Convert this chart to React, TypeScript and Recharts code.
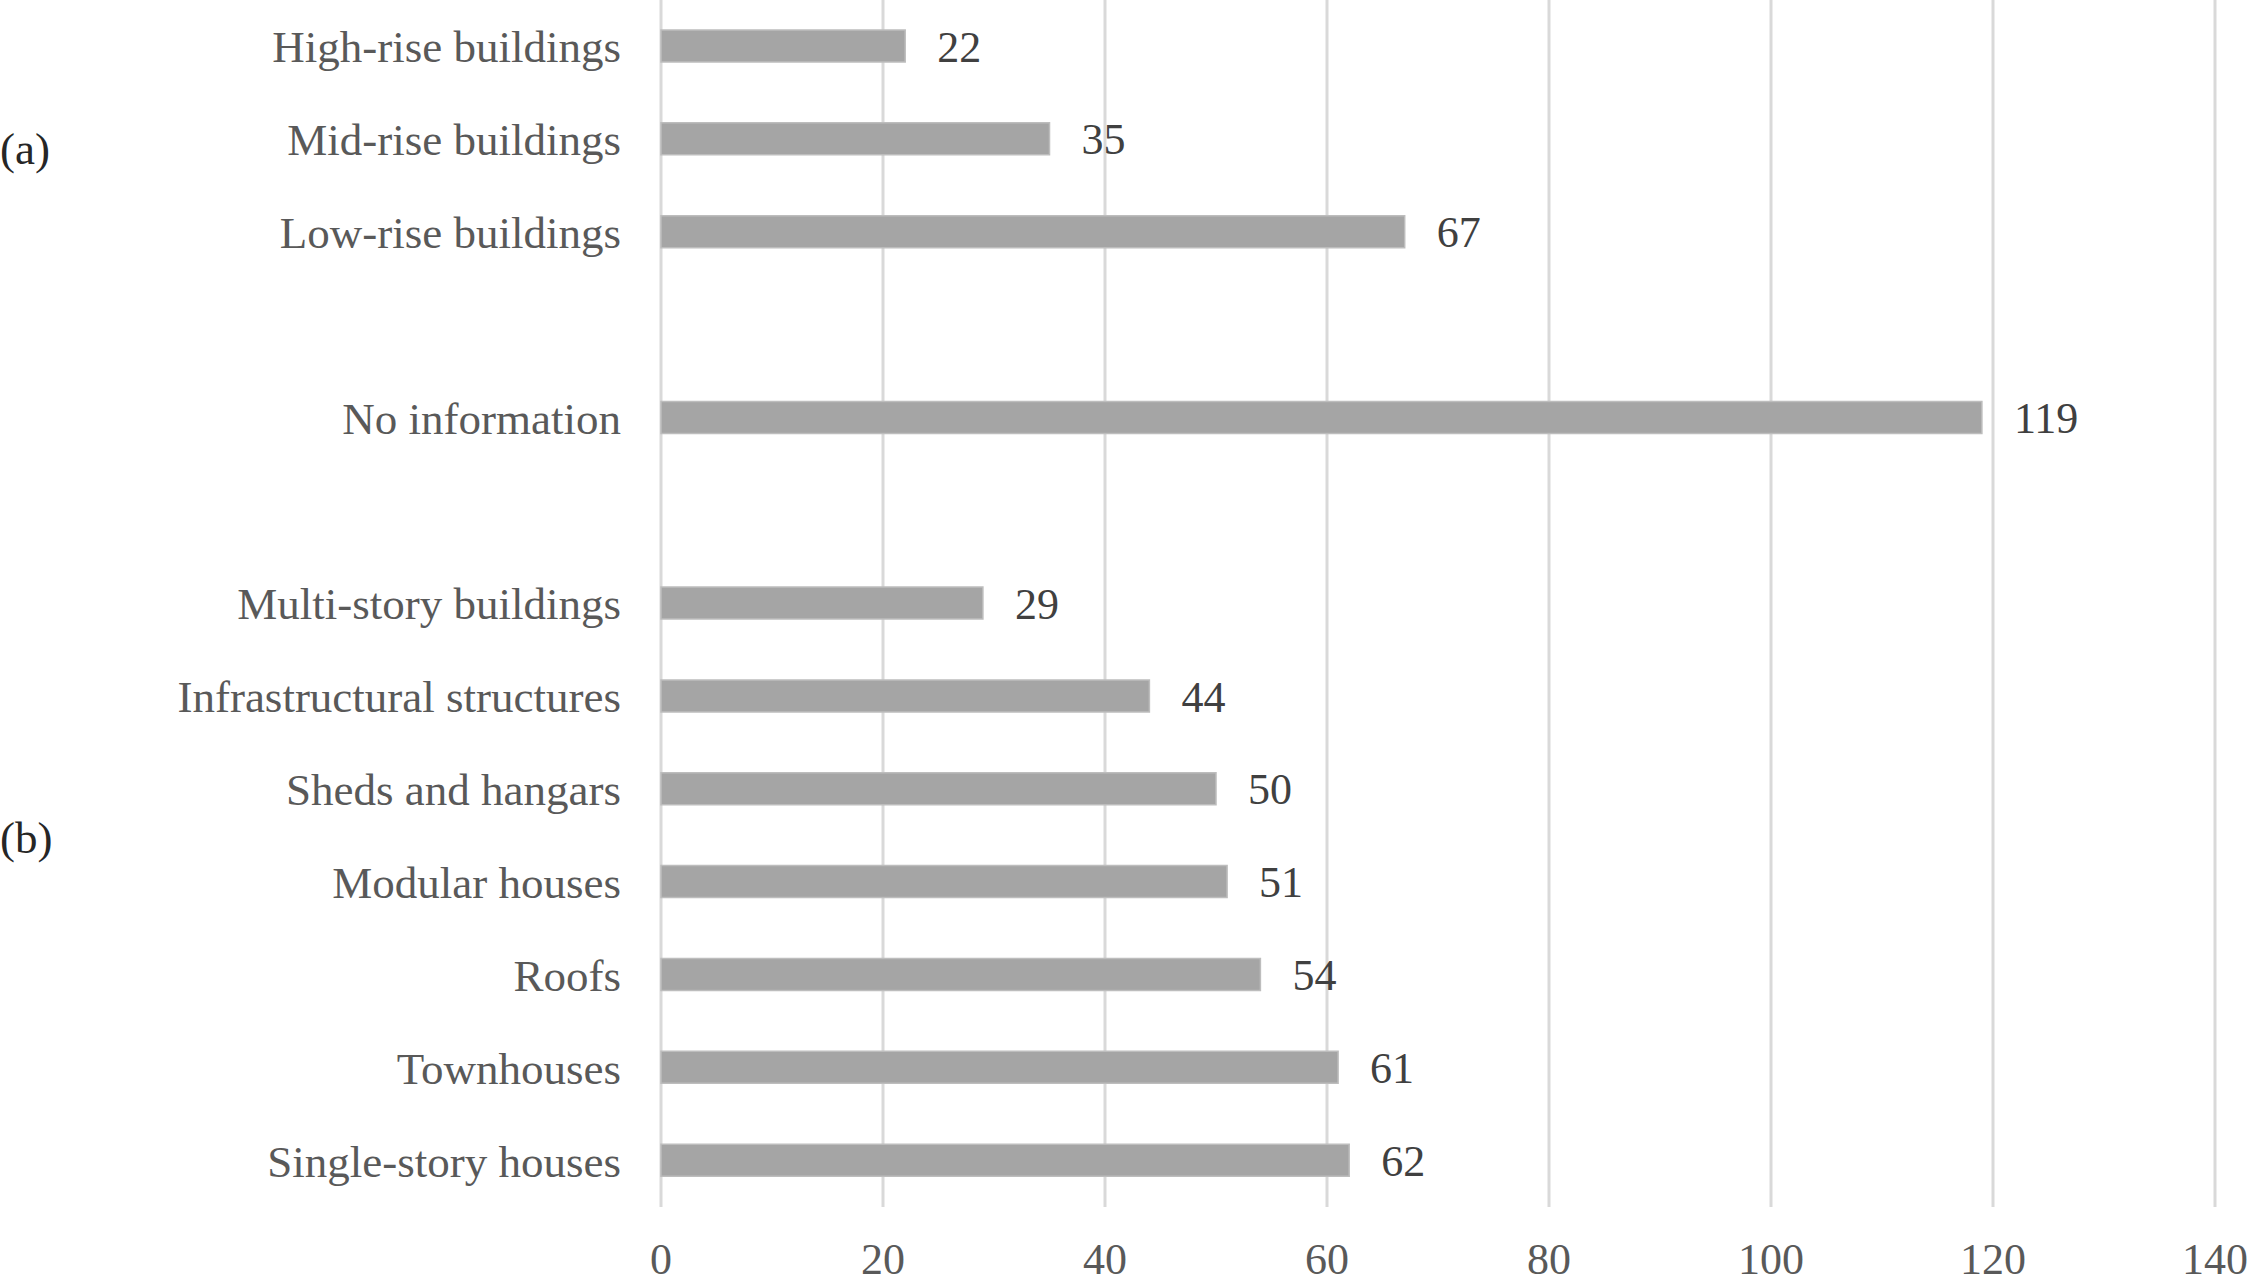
import React from "react";
import { BarChart, Bar, XAxis, YAxis, CartesianGrid, LabelList } from "recharts";

const categories = [
  "High-rise buildings",
  "Mid-rise buildings",
  "Low-rise buildings",
  "",
  "No information",
  "",
  "Multi-story buildings",
  "Infrastructural structures",
  "Sheds and hangars",
  "Modular houses",
  "Roofs",
  "Townhouses",
  "Single-story houses",
];
const values: (number | null)[] = [22, 35, 67, null, 119, null, 29, 44, 50, 51, 54, 61, 62];
const xTicks = [0, 20, 40, 60, 80, 100, 120, 140];
const groupLabels = ["(a)", "(b)"];

const data = categories.map((label, i) => ({ key: `c${i}`, label, value: values[i] }));

const FONT = "'Liberation Serif', 'Times New Roman', serif";
const FS = 45;

export default function App() {
  return (
    <div style={{ position: "absolute", left: 0, top: 0, width: 2251, height: 1286, background: "#fff" }}>
      <BarChart
        width={2251}
        height={1286}
        data={data}
        layout="vertical"
        margin={{ top: 0, right: 36, left: 0, bottom: 0 }}
        barCategoryGap={0}
      >
        <CartesianGrid horizontal={false} vertical={true} stroke="#d9d9d9" strokeWidth={3} />
        <XAxis
          type="number"
          domain={[0, 140]}
          ticks={xTicks}
          axisLine={false}
          tickLine={false}
          tickSize={0}
          tickMargin={36}
          height={79}
          interval={0}
          tick={{ fill: "#595959", fontSize: 44, fontFamily: FONT }}
        />
        <YAxis
          type="category"
          dataKey="key"
          width={661}
          axisLine={false}
          tickLine={false}
          tickSize={0}
          tickMargin={40}
          interval={0}
          tickFormatter={(k: string) => data.find((d) => d.key === k)?.label ?? ""}
          tick={{ fill: "#595959", fontSize: FS, fontFamily: FONT }}
        />
        <Bar dataKey="value" fill="#a5a5a5" stroke="#bdbdbd" strokeWidth={1.5} barSize={32} isAnimationActive={false}>
          <LabelList
            dataKey="value"
            position="right"
            offset={32}
            fill="#404040"
            style={{ fontSize: 44, fontFamily: FONT }}
          />
        </Bar>
      </BarChart>
      <svg width={120} height={1286} style={{ position: "absolute", left: 0, top: 0 }}>
        <text x={0} y={164} fontSize={FS} fontFamily={FONT} fill="#262626">{groupLabels[0]}</text>
        <text x={0} y={853} fontSize={FS} fontFamily={FONT} fill="#262626">{groupLabels[1]}</text>
      </svg>
    </div>
  );
}
